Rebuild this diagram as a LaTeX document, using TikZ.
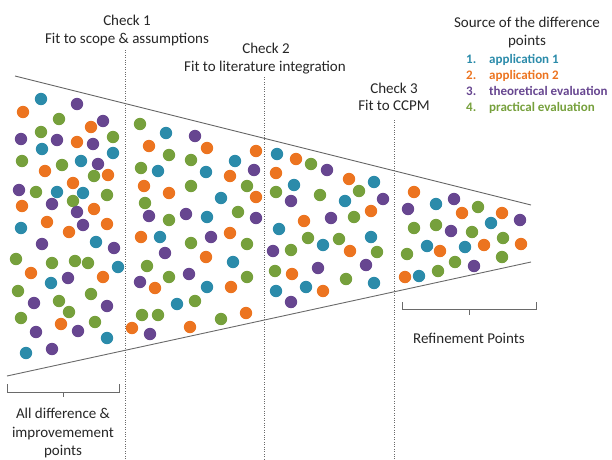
\documentclass[tikz,border=0pt]{standalone}
\usepackage{fontspec}
\setmainfont{Carlito}
\definecolor{ptteal}{HTML}{2B8BAA}
\definecolor{ptorange}{HTML}{EC7420}
\definecolor{ptpurple}{HTML}{674690}
\definecolor{ptgreen}{HTML}{76A03C}
\definecolor{txt}{HTML}{262626}
\definecolor{edge}{HTML}{6A6A6A}
\begin{document}
\begin{tikzpicture}[x=1pt,y=-1pt,
  lbl/.style={text=txt,inner sep=0pt,anchor=base,font=\fontsize{15}{18}\selectfont},
  leg/.style={inner sep=0pt,anchor=base west,font=\fontsize{13}{16}\selectfont\bfseries},
  funnel/.style={draw=edge,line width=0.9pt},
  checkline/.style={draw=edge,line width=0.7pt,dash pattern=on 1pt off 1.4pt},
  bracket/.style={draw=edge,line width=0.8pt},
  dott/.style={fill=ptteal},
  doto/.style={fill=ptorange},
  dotp/.style={fill=ptpurple},
  dotg/.style={fill=ptgreen}]
\useasboundingbox (0,0) rectangle (612,459);

% funnel outline
\coordinate (tl) at (15,76);
\coordinate (tr) at (531,205);
\coordinate (bl) at (7,376);
\coordinate (br) at (531,262);
\draw[funnel] (tl) -- (tr);
\draw[funnel] (bl) -- (br);

% check boundaries
\coordinate (k1t) at (125,50);  \coordinate (k1b) at (125,459);
\coordinate (k2t) at (264,77);  \coordinate (k2b) at (264,459);
\coordinate (k3t) at (394,120); \coordinate (k3b) at (394,459);
\draw[checkline] (k1t) -- (k1b);
\draw[checkline] (k2t) -- (k2b);
\draw[checkline] (k3t) -- (k3b);

% points
\foreach \x/\y/\c in {
 41/99/t, 77/104/p, 23/112/o, 59/119/g, 103/121/p, 91/127/o, 41/132/g, 21/139/p,
 57/140/p, 77/142/o, 93/144/p, 113/137/g, 42/149/t, 113/153/t, 22/161/g, 62/165/g,
 81/161/t, 98/164/p, 45/171/o, 94/176/g, 108/175/o, 73/183/o, 19/190/p, 36/192/g,
 57/192/t, 83/193/t, 107/195/g, 73/201/g, 22/206/o, 52/204/p, 77/212/p, 94/209/o,
 47/222/o, 83/225/p, 107/224/o, 21/228/t, 69/232/o, 42/244/p, 96/242/t, 114/248/p,
 16/259/g, 52/263/g, 75/261/g, 88/263/g, 118/267/t, 31/273/o, 68/278/p, 51/283/t,
 103/277/o, 18/291/g, 91/294/g, 59/301/g, 34/303/p, 107/306/p, 69/312/g, 21/318/g,
 95/322/g, 61/324/o, 78/331/p, 36/332/p, 107/338/t, 52/349/p, 26/353/t,
 140/124/g, 166/133/t, 195/136/p, 149/146/o, 207/148/o, 256/151/o, 169/155/g,
 191/160/g, 235/161/t, 141/168/g, 158/171/t, 206/172/t, 230/176/o, 254/170/p,
 144/186/o, 169/193/o, 191/186/g, 247/186/g, 221/198/t, 256/197/o, 145/203/g,
 149/216/p, 186/214/p, 169/220/g, 207/217/t, 238/212/g, 256/218/p, 141/237/o,
 160/237/t, 191/243/g, 211/237/p, 230/233/o, 247/244/g, 165/253/p, 206/257/o,
 233/262/t, 147/266/g, 169/277/g, 189/274/p, 140/282/p, 155/288/o, 207/287/t,
 231/287/o, 247/277/g, 177/304/t, 195/301/g, 142/315/g, 158/315/g, 132/328/o,
 150/334/p, 190/327/o, 221/319/g, 246/313/o,
 277/154/t, 296/159/o, 311/164/g, 327/170/p, 276/173/o, 294/185/t, 276/192/g,
 291/201/p, 320/195/g, 349/179/o, 374/182/t, 359/191/g, 345/201/t, 383/199/p,
 371/211/o, 354/217/g, 331/218/p, 304/221/o, 279/229/t, 308/238/g, 323/245/t,
 339/239/g, 371/237/t, 273/251/p, 291/250/g, 350/251/o, 377/252/g, 275/271/g,
 292/274/o, 318/268/p, 366/265/p, 276/291/t, 306/287/t, 323/291/o, 346/279/g,
 374/283/t, 291/302/p,
 414/192/o, 454/199/p, 436/204/t, 478/207/g, 462/213/o, 502/213/o, 520/220/p,
 408/209/p, 491/223/t, 436/225/g, 414/228/g, 451/231/p, 472/232/g, 427/246/t,
 440/251/o, 465/247/t, 484/245/o, 503/238/g, 521/244/o, 407/254/g, 455/262/g,
 474/266/p, 502/257/g, 405/277/o, 419/276/t, 438/271/g}
 \fill[dot\c] (\x,\y) circle[radius=6.2pt];

% check headings
\node[lbl] (c1a) at (127,25) {Check 1};
\node[lbl] (c1b) at (127,43) {Fit to scope \& assumptions};
\node[lbl] (c2a) at (266,53) {Check 2};
\node[lbl] (c2b) at (265,71) {Fit to literature integration};
\node[lbl] (c3a) at (394,93) {Check 3};
\node[lbl] (c3b) at (394,110) {Fit to CCPM};

% legend
\node[lbl] (lega) at (527,27) {Source of the difference};
\node[lbl] (legb) at (527,45) {points};
\node[leg,text=ptteal]   (n1) at (466,63)  {1.};
\node[leg,text=ptteal]   (s1) at (489,63)  {application 1};
\node[leg,text=ptorange] (n2) at (466,79)  {2.};
\node[leg,text=ptorange] (s2) at (489,79)  {application 2};
\node[leg,text=ptpurple] (n3) at (466,95)  {3.};
\node[leg,text=ptpurple] (s3) at (489,95)  {theoretical evaluation};
\node[leg,text=ptgreen]  (n4) at (466,111) {4.};
\node[leg,text=ptgreen]  (s4) at (489,111) {practical evaluation};

% bracket under the wide end
\coordinate (ba1) at (7,384);  \coordinate (ba2) at (7,392);
\coordinate (ba3) at (119,392); \coordinate (ba4) at (119,384);
\coordinate (bam) at (63,392); \coordinate (bat) at (63,397);
\draw[bracket] (ba1) -- (ba2) -- (ba3) -- (ba4);
\draw[bracket] (bam) -- (bat);
\node[lbl] (all1) at (63,418) {All difference \&};
\node[lbl] (all2) at (63,437) {improvemement};
\node[lbl] (all3) at (63,455) {points};

% bracket under the narrow end
\coordinate (bb1) at (402,302); \coordinate (bb2) at (402,309);
\coordinate (bb3) at (536,309); \coordinate (bb4) at (536,302);
\coordinate (bbm) at (469,309); \coordinate (bbt) at (469,315);
\draw[bracket] (bb1) -- (bb2) -- (bb3) -- (bb4);
\draw[bracket] (bbm) -- (bbt);
\node[lbl] (ref) at (469,343) {Refinement Points};
\end{tikzpicture}
\end{document}
